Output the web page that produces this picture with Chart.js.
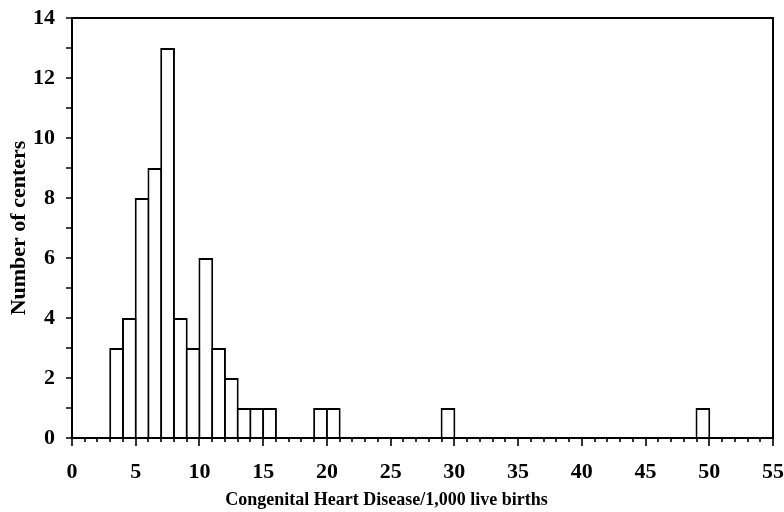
<!DOCTYPE html>
<html>
<head>
<meta charset="utf-8">
<script src="https://cdn.jsdelivr.net/npm/chart.js@4"></script>
<style>
  html, body { margin: 0; padding: 0; background: #fff; }
  #wrap { width: 784px; height: 512px; }
</style>
</head>
<body>
<div id="wrap"><canvas id="c" width="784" height="512"></canvas></div>
<script>
// Histogram bins (lower edge, width 1) and counts
const binStarts = [3, 4, 5, 6, 7, 8, 9, 10, 11, 12, 13, 14, 15, 19, 20, 29, 49];
const counts    = [3, 4, 8, 9, 13, 4, 3, 6, 3, 2, 1, 1, 1, 1, 1, 1, 1];
const xTickLabels = [0, 5, 10, 15, 20, 25, 30, 35, 40, 45, 50, 55];
const yTickLabels = [0, 2, 4, 6, 8, 10, 12, 14];
const xTitle = 'Congenital Heart Disease/1,000 live births';
const yTitle = 'Number of centers';

const FONT = "'Liberation Serif', 'Times New Roman', serif";

const points = binStarts.map((s, i) => ({ x: s + 0.5, y: counts[i] }));

const frameAndTicks = {
  id: 'frameAndTicks',
  afterDraw(chart) {
    const { ctx, chartArea: a, scales: { x, y } } = chart;
    ctx.save();
    ctx.strokeStyle = '#000';
    ctx.lineWidth = 2;
    ctx.strokeRect(a.left, a.top, a.right - a.left, a.bottom - a.top);
    ctx.lineWidth = 1.6;
    ctx.beginPath();
    for (let v = x.min; v <= x.max; v++) {
      const px = Math.round(x.getPixelForValue(v));
      const len = (v % 5 === 0) ? 8 : 4;
      ctx.moveTo(px, a.bottom);
      ctx.lineTo(px, a.bottom + len);
    }
    for (let v = y.min; v <= y.max; v++) {
      const py = Math.round(y.getPixelForValue(v));
      ctx.moveTo(a.left, py);
      ctx.lineTo(a.left - 6, py);
    }
    ctx.stroke();
    ctx.restore();
  }
};

new Chart(document.getElementById('c'), {
  type: 'bar',
  data: {
    datasets: [{
      data: points,
      backgroundColor: '#ffffff',
      borderColor: '#000000',
      borderWidth: 2,
      barPercentage: 1.157,
      categoryPercentage: 1.0,
      inflateAmount: 0
    }]
  },
  options: {
    responsive: false,
    animation: false,
    layout: { padding: { top: 18, right: 11, left: 0, bottom: 0 } },
    plugins: {
      legend: { display: false },
      tooltip: { enabled: false },
      title: {
        display: true, position: 'bottom', text: xTitle, color: '#000',
        font: { family: FONT, size: 18, weight: 'bold' },
        padding: { top: 0, bottom: 1 }
      }
    },
    scales: {
      x: {
        type: 'linear',
        offset: false,
        min: 0, max: 55,
        grid: { display: false, drawTicks: false },
        border: { display: false },
        afterBuildTicks(scale) { scale.ticks = xTickLabels.map(v => ({ value: v })); },
        ticks: {
          autoSkip: false, maxRotation: 0, padding: 21,
          color: '#000',
          font: { family: FONT, size: 22, weight: 'bold' }
        },
        afterFit(scale) {
          scale.height = 512 - 438 - 22.6;
          scale.paddingLeft = 0; scale.paddingRight = 0;
        }
      },
      y: {
        min: 0, max: 14,
        grid: { display: false, drawTicks: false },
        border: { display: false },
        afterBuildTicks(scale) { scale.ticks = yTickLabels.map(v => ({ value: v })); },
        ticks: {
          padding: 17, color: '#000',
          font: { family: FONT, size: 22, weight: 'bold' }
        },
        title: {
          display: true, text: yTitle, color: '#000',
          font: { family: FONT, size: 22, weight: 'bold' },
          padding: { top: 6, bottom: 0 }
        },
        afterFit(scale) {
          scale.width = 72;
          scale.paddingTop = 0; scale.paddingBottom = 0;
        }
      }
    }
  },
  plugins: [frameAndTicks]
});
</script>
</body>
</html>
